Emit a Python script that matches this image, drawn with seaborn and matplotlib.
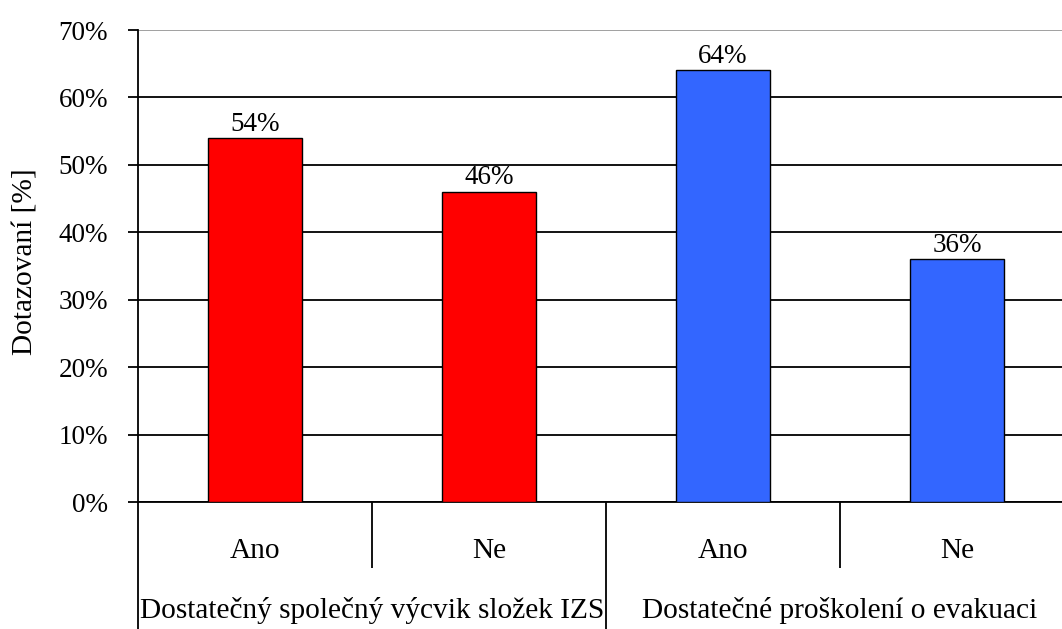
import matplotlib
matplotlib.use("Agg")
import matplotlib.pyplot as plt
import matplotlib.transforms as mtransforms
import seaborn as sns
import pandas as pd

# Survey answers grouped by question
groups = ["Dostatečný společný výcvik složek IZS", "Dostatečné proškolení o evakuaci"]
answers = ["Ano", "Ne", "Ano", "Ne"]
group_of_bar = [0, 0, 1, 1]
values = [54, 46, 64, 36]
colors = ["#FF0000", "#FF0000", "#3366FF", "#3366FF"]
y_ticks = [0, 10, 20, 30, 40, 50, 60, 70]

sns.set_theme(style="white")
plt.rcParams["font.family"] = ["Liberation Serif", "DejaVu Serif"]
FS_TICK = 19.5
FS_CAT = 21.2

df = pd.DataFrame({
    "key": [f"{i}" for i in range(len(values))],
    "value": values,
})

fig = plt.figure(figsize=(10.62, 6.29), dpi=100)
W, H = 1062, 629
left, right_px, top, bottom = 138, 138 + 936, 30, 502
ax = fig.add_axes([left / W, (H - bottom) / H, (right_px - left) / W, (bottom - top) / H])

sns.barplot(data=df, x="key", y="value", hue="key", palette=colors, legend=False,
            width=0.40, edgecolor="black", linewidth=1.0, saturation=1, ax=ax, zorder=3)

ax.set_xlim(-0.5, 3.5)
ax.set_ylim(0, 70)
ax.set_yticks(y_ticks)
ax.set_yticklabels([f"{t}%" for t in y_ticks], fontsize=FS_TICK, color="black")
ax.tick_params(axis="y", which="major", direction="out", length=7.5, width=1.3,
               color="black", left=True, pad=14)
ax.set_xticks([])
ax.set_xlabel("")
ax.set_ylabel("Dotazovaní [%]", fontsize=FS_CAT, color="black", va="center")
ax.yaxis.set_label_coords((26 - left) / (right_px - left), (bottom - 262) / (bottom - top))

ax.yaxis.grid(True, color="black", linewidth=1.3, zorder=0)
ax.get_ygridlines()[-1].set_color("#999999")
ax.set_axisbelow(True)
for side in ["top", "right"]:
    ax.spines[side].set_visible(False)
for side in ["left", "bottom"]:
    ax.spines[side].set_color("black")
    ax.spines[side].set_linewidth(1.3)

# value labels on top of bars
for i, v in enumerate(values):
    ax.text(i, v + 0.2, f"{v}%", ha="center", va="bottom", fontsize=FS_TICK, color="black")

# two-level category axis
trans = mtransforms.blended_transform_factory(ax.transData, ax.transAxes)
short_y = (bottom - 568) / (bottom - top)
long_y = (bottom - H) / (bottom - top)
for x, y_end in [(-0.5, long_y), (0.5, short_y), (1.5, long_y), (2.5, short_y)]:
    ax.plot([x, x], [0, y_end], transform=trans, color="black", linewidth=1.3,
            clip_on=False, solid_capstyle="butt")

ans_y = (bottom - 551) / (bottom - top)
for i, a in enumerate(answers):
    ax.text(i, ans_y, a, transform=trans, ha="center", va="center", fontsize=FS_CAT, color="black")

grp_y = (bottom - 611) / (bottom - top)
for g, name in enumerate(groups):
    idx = [i for i, gg in enumerate(group_of_bar) if gg == g]
    cx = sum(idx) / len(idx)
    ax.text(cx, grp_y, name, transform=trans, ha="center", va="center", fontsize=FS_CAT, color="black")

fig.savefig("out.png", dpi=100)
